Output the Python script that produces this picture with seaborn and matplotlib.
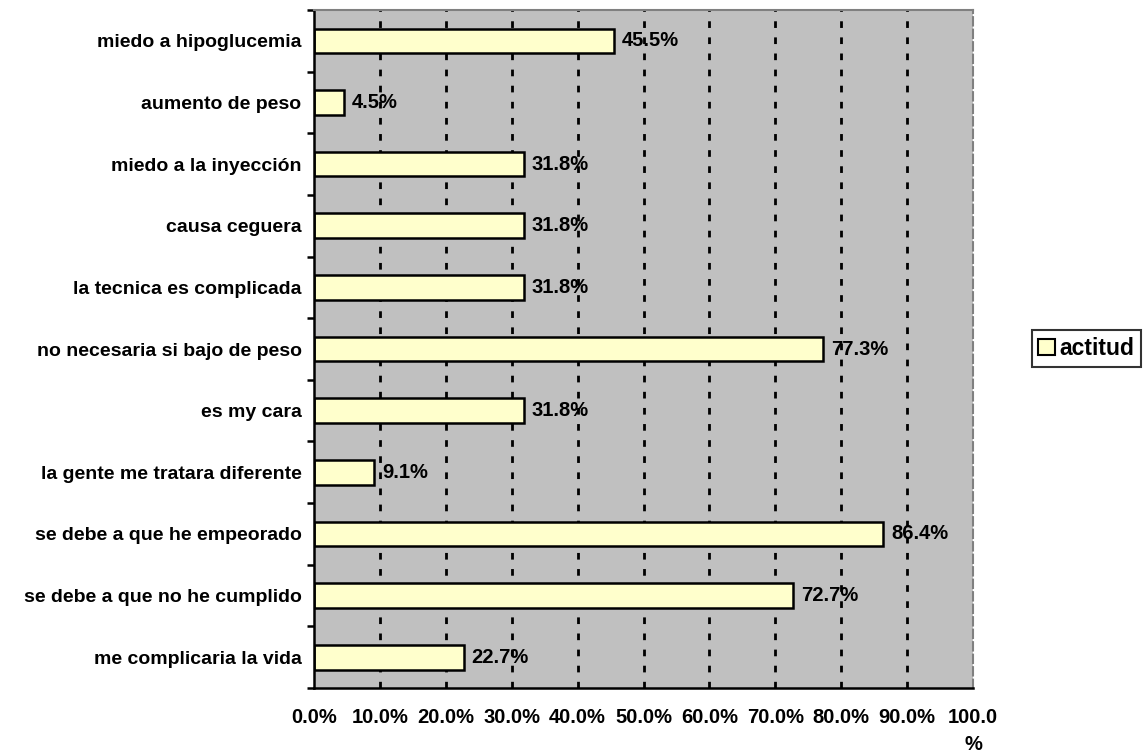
import matplotlib
matplotlib.use("Agg")
import matplotlib.pyplot as plt
import seaborn as sns
import pandas as pd
from matplotlib.patches import Patch
from matplotlib.ticker import FixedLocator

categories = [
    "miedo a hipoglucemia",
    "aumento de peso",
    "miedo a la inyección",
    "causa ceguera",
    "la tecnica es complicada",
    "no necesaria si bajo de peso",
    "es my cara",
    "la gente me tratara diferente",
    "se debe a que he empeorado",
    "se debe a que no he cumplido",
    "me complicaria la vida",
]
values = [45.5, 4.5, 31.8, 31.8, 31.8, 77.3, 31.8, 9.1, 86.4, 72.7, 22.7]
series_name = "actitud"
x_ticks = [0, 10, 20, 30, 40, 50, 60, 70, 80, 90, 100]
x_tick_labels = ["0.0%", "10.0%", "20.0%", "30.0%", "40.0%", "50.0%",
                 "60.0%", "70.0%", "80.0%", "90.0%", "100.0\n%"]

df = pd.DataFrame({"categoria": categories, "valor": values})

sns.set_theme(style="white")
plt.rcParams["font.family"] = ["Liberation Sans", "DejaVu Sans"]
plt.rcParams["font.weight"] = "bold"
plt.rcParams["text.color"] = "black"
plt.rcParams["xtick.color"] = "black"
plt.rcParams["ytick.color"] = "black"
plt.rcParams["xtick.labelcolor"] = "black"
plt.rcParams["ytick.labelcolor"] = "black"

fig = plt.figure(figsize=(11.47, 7.54), dpi=100)
ax = fig.add_axes([0.2738, 0.0875, 0.5745, 0.8992])
ax.set_facecolor("#C0C0C0")

sns.barplot(data=df, x="valor", y="categoria", orient="h", ax=ax,
            color="#FFFFCC", edgecolor="black", linewidth=1.8,
            width=0.4, saturation=1)

ax.set_xlim(0, 100)
ax.set_ylim(len(categories) - 0.5, -0.5)

# vertical dashed gridlines
for xv in x_ticks[1:-1]:
    ax.axvline(xv, color="black", linestyle=(0, (2.4, 3.4)), linewidth=2.0, zorder=0.5)

# value labels at the end of each bar
for i, v in enumerate(values):
    ax.text(v + 1.2, i, f"{v:.1f}%", va="center", ha="left",
            fontsize=14.5, fontweight="bold", color="black", zorder=5)

ax.set_xticks(x_ticks)
ax.set_xticklabels(x_tick_labels, fontsize=14.5, fontweight="bold",
                   color="black", linespacing=1.5)
ax.tick_params(axis="x", direction="inout", length=9, width=1.8, color="black", pad=10)

# category labels at centers, tick marks at category boundaries
ax.set_yticks(range(len(categories)))
ax.set_yticklabels(categories, fontsize=14, fontweight="bold", color="black")
ax.tick_params(axis="y", which="major", length=0, pad=9)
ax.yaxis.set_minor_locator(FixedLocator([i - 0.5 for i in range(len(categories) + 1)]))
ax.tick_params(axis="y", which="minor", direction="out", length=5, width=1.8, color="black", left=True)

ax.set_xlabel("")
ax.set_ylabel("")

ax.spines["left"].set_color("black")
ax.spines["left"].set_linewidth(1.8)
ax.spines["bottom"].set_color("black")
ax.spines["bottom"].set_linewidth(1.8)
ax.spines["top"].set_color("#808080")
ax.spines["top"].set_linewidth(1.5)
ax.spines["right"].set_color("#808080")
ax.spines["right"].set_linewidth(1.5)
ax.spines["right"].set_linestyle((0, (4, 2)))

handle = Patch(facecolor="#FFFFCC", edgecolor="black", linewidth=1.5, label=series_name)
leg = fig.legend(handles=[handle], loc="center", bbox_to_anchor=(0.947, 0.538),
                 frameon=True, fancybox=False, edgecolor="black",
                 prop={"weight": "bold", "size": 16.5},
                 handlelength=0.7, handleheight=0.7, handletextpad=0.2,
                 borderpad=0.3, borderaxespad=0)
leg.get_frame().set_linewidth(1.5)
for t in leg.get_texts():
    t.set_color("black")

fig.savefig("out.png", dpi=100, facecolor="white")
